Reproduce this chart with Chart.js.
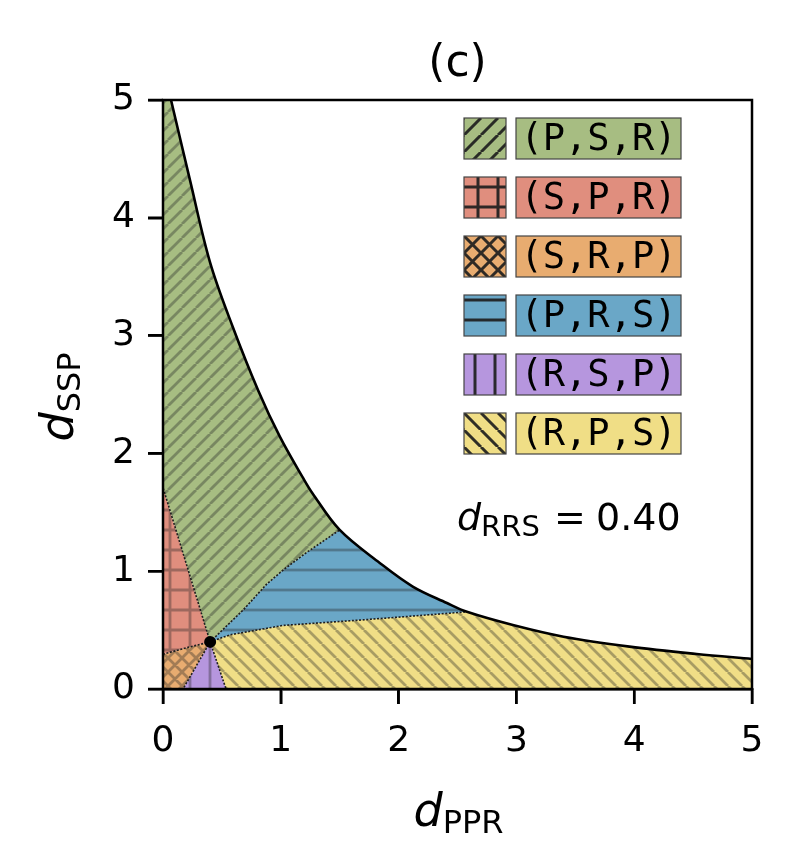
<!DOCTYPE html>
<html>
<head>
<meta charset="utf-8">
<script src="https://cdn.jsdelivr.net/npm/chart.js@4.4.1/dist/chart.umd.min.js"></script>
<style>
    html, body { margin: 0; padding: 0; background: #fff; }
    #caixa { width: 799px; height: 868px; }
</style>
</head>
<body>
<div id="caixa"><canvas id="diagrama" width="799" height="868"></canvas></div>
<script>
// ticks dos eixos
const xTicks = [0, 1, 2, 3, 4, 5];
const yTicks = [0, 1, 2, 3, 4, 5];
const dRRS = 0.40;

// ponto triplo (ponto preto)
const triplePoint = [{x: 0.40, y: 0.40}];

// curva externa (linha preta), em tres pedacos
const outerTop = [
    {x: 0.068, y: 5.00}, {x: 0.229, y: 4.32}, {x: 0.40, y: 3.62}, {x: 0.59, y: 3.08},
    {x: 0.81, y: 2.53}, {x: 0.993, y: 2.14}, {x: 1.19, y: 1.79}, {x: 1.27, y: 1.66},
    {x: 1.50, y: 1.35}
];
const outerMid = [
    {x: 1.50, y: 1.35}, {x: 1.84, y: 1.07}, {x: 2.12, y: 0.87},
    {x: 2.41, y: 0.73}, {x: 2.58, y: 0.655}
];
const outerLow = [
    {x: 2.58, y: 0.655}, {x: 2.97, y: 0.543}, {x: 3.40, y: 0.444}, {x: 3.96, y: 0.36},
    {x: 4.53, y: 0.297}, {x: 5.00, y: 0.255}
];

// fronteiras internas (pontilhadas), todas saindo do ponto triplo
const edgeGreenRed = [{x: 0.40, y: 0.40}, {x: 0.00, y: 1.71}];
const edgeRedOrange = [{x: 0.40, y: 0.40}, {x: 0.20, y: 0.35}, {x: 0.00, y: 0.295}];
const edgeOrangePurple = [{x: 0.40, y: 0.40}, {x: 0.17, y: 0.00}];
const edgePurpleYellow = [{x: 0.40, y: 0.40}, {x: 0.535, y: 0.00}];
const edgeYellowBlue = [
    {x: 0.40, y: 0.40}, {x: 0.57, y: 0.46}, {x: 1.02, y: 0.54}, {x: 1.67, y: 0.585},
    {x: 2.00, y: 0.61}, {x: 2.58, y: 0.655}
];
const edgeBlueGreen = [
    {x: 0.40, y: 0.40}, {x: 0.68, y: 0.67}, {x: 0.88, y: 0.89}, {x: 1.02, y: 1.01},
    {x: 1.22, y: 1.16}, {x: 1.50, y: 1.35}
];

// legenda
const legendLabels = ['(P,S,R)', '(S,P,R)', '(S,R,P)', '(P,R,S)', '(R,S,P)', '(R,P,S)'];
const legendColors = ['#a7bd82', '#e08e7e', '#e8ac70', '#6aa7c7', '#b696de', '#f0de86'];
const legendHatches = ['/', '+', 'x', '-', '|', '\\'];

const rev = arr => arr.slice().reverse();

// poligonos de cada regiao
const regions = [
    [{x: 0, y: 5}].concat(outerTop, rev(edgeBlueGreen), edgeGreenRed),
    rev(edgeGreenRed).concat(edgeRedOrange.slice(1)),
    edgeRedOrange.concat([{x: 0, y: 0}], rev(edgeOrangePurple)),
    edgeYellowBlue.concat(rev(outerMid), rev(edgeBlueGreen)),
    edgeOrangePurple.concat(rev(edgePurpleYellow)),
    edgePurpleYellow.concat([{x: 5, y: 0}], rev(outerLow), rev(edgeYellowBlue))
];

function hachura(cor, tipo, corLinha, largura, diag) {
    const s = (tipo === '/' || tipo === '\\' || tipo === 'x') ? diag : 20;
    const c = document.createElement('canvas');
    c.width = s;
    c.height = s;
    const g = c.getContext('2d');
    g.fillStyle = cor;
    g.fillRect(0, 0, s, s);
    g.strokeStyle = corLinha;
    g.lineWidth = largura;
    g.beginPath();
    if (tipo === '/' || tipo === 'x') {
        for (const o of [-s, 0, s]) {
            g.moveTo(o, s);
            g.lineTo(o + s, 0);
        }
    }
    if (tipo === '\\' || tipo === 'x') {
        for (const o of [-s, 0, s]) {
            g.moveTo(o, 0);
            g.lineTo(o + s, s);
        }
    }
    if (tipo === '-' || tipo === '+') {
        g.moveTo(0, s / 2);
        g.lineTo(s, s / 2);
    }
    if (tipo === '|' || tipo === '+') {
        g.moveTo(s / 2, 0);
        g.lineTo(s / 2, s);
    }
    g.stroke();
    return g.createPattern(c, 'repeat');
}

const plotPatterns = legendColors.map((c, i) => hachura(c, legendHatches[i], 'rgba(40, 40, 40, 0.36)', 2.8, 14));
const legendPatterns = legendColors.map((c, i) => hachura(c, legendHatches[i], 'rgba(30, 30, 30, 0.92)', 3, 17));

// deslocamento das hachuras da legenda, para alinhar as linhas como no original
const legendShift = [[0, 0], [4, 0], [0, 0], [0, -5], [1, 0], [0, 0]];

const datasets = [];

// order maior = desenhado antes (por baixo)
regions.forEach((pts, i) => {
    datasets.push({
        data: pts,
        order: 10,
        fill: 'shape',
        backgroundColor: plotPatterns[i],
        borderColor: 'rgba(0, 0, 0, 0)',
        borderWidth: 1,
        pointRadius: 0,
        tension: 0
    });
});

[edgeGreenRed, edgeRedOrange, edgeOrangePurple, edgePurpleYellow, edgeYellowBlue, edgeBlueGreen].forEach(e => {
    datasets.push({
        data: e,
        order: 5,
        fill: false,
        borderColor: '#1e1e1e',
        borderWidth: 1.6,
        borderDash: [2, 1.6],
        pointRadius: 0,
        tension: 0
    });
});

datasets.push({
    data: outerTop.concat(outerMid.slice(1), outerLow.slice(1)),
    order: 3,
    fill: false,
    borderColor: '#000',
    borderWidth: 2.6,
    pointRadius: 0,
    tension: 0.35
});

datasets.push({
    data: triplePoint,
    order: 1,
    showLine: false,
    pointRadius: 6,
    pointBackgroundColor: '#000',
    pointBorderColor: '#000',
    pointBorderWidth: 0
});

function textoSub(ctx, base, sub, tam, tamSub, desce) {
    ctx.font = 'italic ' + tam + 'px "DejaVu Sans"';
    const w1 = ctx.measureText(base).width;
    ctx.font = tamSub + 'px "DejaVu Sans"';
    const w2 = ctx.measureText(sub).width;
    return {w1: w1, w2: w2, desenha: (x0, y) => {
        ctx.font = 'italic ' + tam + 'px "DejaVu Sans"';
        ctx.fillText(base, x0, y);
        ctx.font = tamSub + 'px "DejaVu Sans"';
        ctx.fillText(sub, x0 + w1, y + desce);
    }};
}

const extras = {
    id: 'extras',
    afterDatasetsDraw(chart) {
        const {ctx, chartArea: a, scales} = chart;
        ctx.save();
        ctx.strokeStyle = '#000';
        ctx.lineWidth = 2.5;
        ctx.strokeRect(a.left, a.top, a.right - a.left, a.bottom - a.top);
        // marcas dos ticks, para fora
        ctx.beginPath();
        xTicks.forEach(v => {
            const px = scales.x.getPixelForValue(v);
            ctx.moveTo(px, a.bottom);
            ctx.lineTo(px, a.bottom + 15);
        });
        yTicks.forEach(v => {
            const py = scales.y.getPixelForValue(v);
            ctx.moveTo(a.left, py);
            ctx.lineTo(a.left - 15, py);
        });
        ctx.stroke();
        ctx.restore();
    },
    afterDraw(chart) {
        const {ctx, chartArea: a} = chart;
        const cx = (a.left + a.right) / 2;
        ctx.save();
        ctx.fillStyle = '#000';
        ctx.textBaseline = 'alphabetic';
        ctx.textAlign = 'left';

        // titulo
        ctx.font = '44px "DejaVu Sans"';
        ctx.textAlign = 'center';
        ctx.fillText('(c)', cx, 76);
        ctx.textAlign = 'left';

        // rotulo x
        let t = textoSub(ctx, 'd', 'PPR', 46, 32, 7);
        t.desenha(cx + 1 - (t.w1 + t.w2) / 2, 826);

        // rotulo y
        ctx.save();
        ctx.translate(73, 397);
        ctx.rotate(-Math.PI / 2);
        t = textoSub(ctx, 'd', 'SSP', 46, 32, 7);
        t.desenha(-(t.w1 + t.w2) / 2, 0);
        ctx.restore();

        // anotacao d_RRS
        t = textoSub(ctx, 'd', 'RRS', 38, 29, 6);
        t.desenha(457, 530);
        ctx.font = '38px "DejaVu Sans"';
        ctx.fillText('=', 554, 530);
        ctx.fillText(dRRS.toFixed(2), 596, 530);

        // legenda
        ctx.textAlign = 'center';
        ctx.textBaseline = 'middle';
        ctx.font = '37px "DejaVu Sans Mono"';
        legendLabels.forEach((lab, i) => {
            const top = 118 + i * 59;
            const pat = legendPatterns[i];
            pat.setTransform(new DOMMatrix().translate(464 + legendShift[i][0], top + legendShift[i][1]));
            ctx.fillStyle = pat;
            ctx.fillRect(464, top, 42, 41);
            ctx.strokeStyle = '#444';
            ctx.lineWidth = 1.2;
            ctx.strokeRect(464, top, 42, 41);
            ctx.fillStyle = legendColors[i];
            ctx.fillRect(516, top, 165, 41);
            ctx.strokeRect(516, top, 165, 41);
            ctx.fillStyle = '#000';
            ctx.fillText(lab, 598.5, top + 22);
        });
        ctx.restore();
    }
};

const eixo = (ticks, fit, pad) => ({
    type: 'linear',
    min: 0,
    max: 5,
    afterFit: fit,
    afterBuildTicks: s => { s.ticks = ticks.map(v => ({value: v})); },
    ticks: {
        color: '#000',
        padding: pad,
        autoSkip: false,
        maxRotation: 0,
        font: {
            family: 'DejaVu Sans',
            size: 36
        }
    },
    grid: {
        drawOnChartArea: false,
        tickLength: 15,
        lineWidth: 2.5,
        color: '#000'
    },
    border: {
        display: true,
        width: 2.5,
        color: '#000'
    }
});

new Chart(document.getElementById('diagrama'), {
    type: 'line',
    data: { datasets: datasets },
    options: {
        responsive: false,
        animation: false,
        events: [],
        layout: {
            padding: { top: 100, right: 47, left: 0, bottom: 0 }
        },
        plugins: {
            legend: { display: false },
            tooltip: { enabled: false },
            title: { display: false }
        },
        scales: {
            x: eixo(xTicks, s => { s.height = 179; }, 16),
            y: eixo(yTicks, s => { s.width = 163; }, 13)
        }
    },
    plugins: [extras]
});
</script>
</body>
</html>
